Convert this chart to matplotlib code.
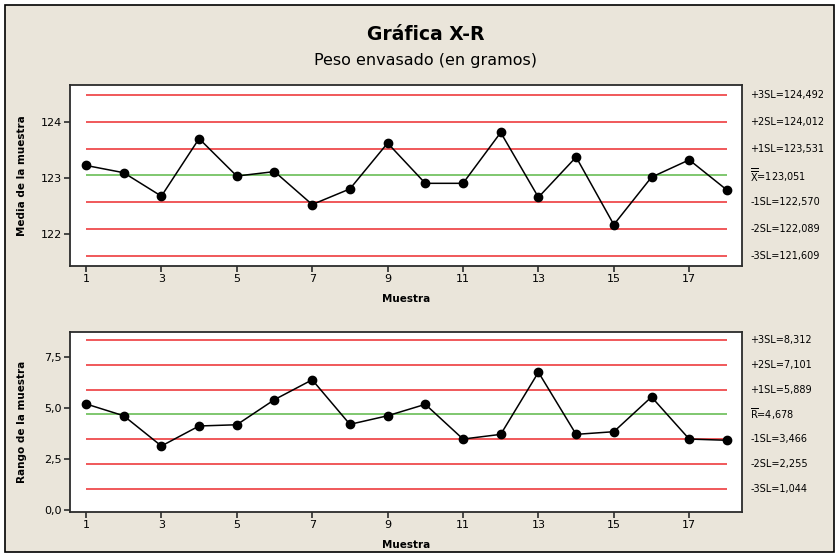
"""Gráfica X-R: peso envasado (en gramos)."""
import matplotlib.pyplot as plt
from matplotlib.patches import Rectangle
from matplotlib.transforms import blended_transform_factory

muestras = list(range(1, 19))
medias = [123.23, 123.10, 122.68, 123.71, 123.04, 123.12, 122.53, 122.81, 123.63,
          122.91, 122.91, 123.82, 122.66, 123.38, 122.17, 123.02, 123.33, 122.79]
rangos = [5.19, 4.61, 3.13, 4.11, 4.17, 5.40, 6.37, 4.19, 4.61,
          5.17, 3.47, 3.70, 6.74, 3.70, 3.83, 5.53, 3.47, 3.41]

limites_x = [124.492, 124.012, 123.531, 123.051, 122.570, 122.089, 121.609]
etiquetas_x = ["+3SL=124,492", "+2SL=124,012", "+1SL=123,531",
               r"$\overline{\overline{\mathrm{X}}}$=123,051",
               "-1SL=122,570", "-2SL=122,089", "-3SL=121,609"]
limites_r = [8.312, 7.101, 5.889, 4.678, 3.466, 2.255, 1.044]
etiquetas_r = ["+3SL=8,312", "+2SL=7,101", "+1SL=5,889",
               r"$\overline{\mathrm{R}}$=4,678",
               "-1SL=3,466", "-2SL=2,255", "-3SL=1,044"]

BG = "#EAE5DA"
RED = "#EC2B2E"
GREEN = "#5CB848"
SPINE = "#2B2B2B"

plt.rcParams["font.family"] = "DejaVu Sans"
plt.rcParams["mathtext.fontset"] = "dejavusans"

fig = plt.figure(figsize=(8.38, 5.53), dpi=100)
fig.patch.set_facecolor("white")
fig.patches.append(Rectangle((5, 1), 829, 547, transform=None, facecolor=BG,
                             edgecolor="black", linewidth=1.2, zorder=-10))

fig.text(0.508, 1 - 35 / 553, "Gráfica X-R", ha="center", va="center",
         fontsize=13.5, fontweight="bold")
fig.text(0.508, 1 - 60 / 553, "Peso envasado (en gramos)", ha="center", va="center",
         fontsize=11.5)

ax1 = fig.add_axes([70 / 838, 1 - 266 / 553, 672 / 838, 181 / 553])
ax2 = fig.add_axes([70 / 838, 1 - 512 / 553, 672 / 838, 180 / 553])


def panel(ax, valores, limites, etiquetas, ylim, yticks, yticklabels, ylabel):
    for i, lim in enumerate(limites):
        color = GREEN if i == 3 else RED
        ax.hlines(lim, muestras[0], muestras[-1], color=color, linewidth=1.1, zorder=1)
    ax.plot(muestras, valores, color="black", linewidth=1.1, marker="o",
            markersize=6, zorder=3)
    trans = blended_transform_factory(ax.transAxes, ax.transData)
    for lim, txt in zip(limites, etiquetas):
        ax.text(1.012, lim, txt, transform=trans, ha="left", va="center", fontsize=7.0)
    ax.set_xlim(0.576, 18.4)
    ax.set_ylim(*ylim)
    ax.set_xticks(range(1, 18, 2))
    ax.set_yticks(yticks, yticklabels)
    ax.tick_params(direction="out", length=4, width=1.2, color=SPINE,
                   labelsize=8, pad=2)
    for s in ax.spines.values():
        s.set_color(SPINE)
        s.set_linewidth(1.3)
    ax.set_facecolor("white")
    ax.set_xlabel("Muestra", fontsize=7.5, fontweight="bold")
    ax.set_ylabel(ylabel, fontsize=7.5, fontweight="bold")
    ax.xaxis.set_label_coords(0.5, -0.155)
    ax.yaxis.set_label_coords(-0.064, 0.5)


panel(ax1, medias, limites_x, etiquetas_x, (121.43, 124.67),
      [122, 123, 124], ["122", "123", "124"], "Media de la muestra")
panel(ax2, rangos, limites_r, etiquetas_r, (-0.1, 8.71),
      [0, 2.5, 5, 7.5], ["0,0", "2,5", "5,0", "7,5"], "Rango de la muestra")

fig.savefig("out.png", dpi=100, facecolor=fig.get_facecolor())
